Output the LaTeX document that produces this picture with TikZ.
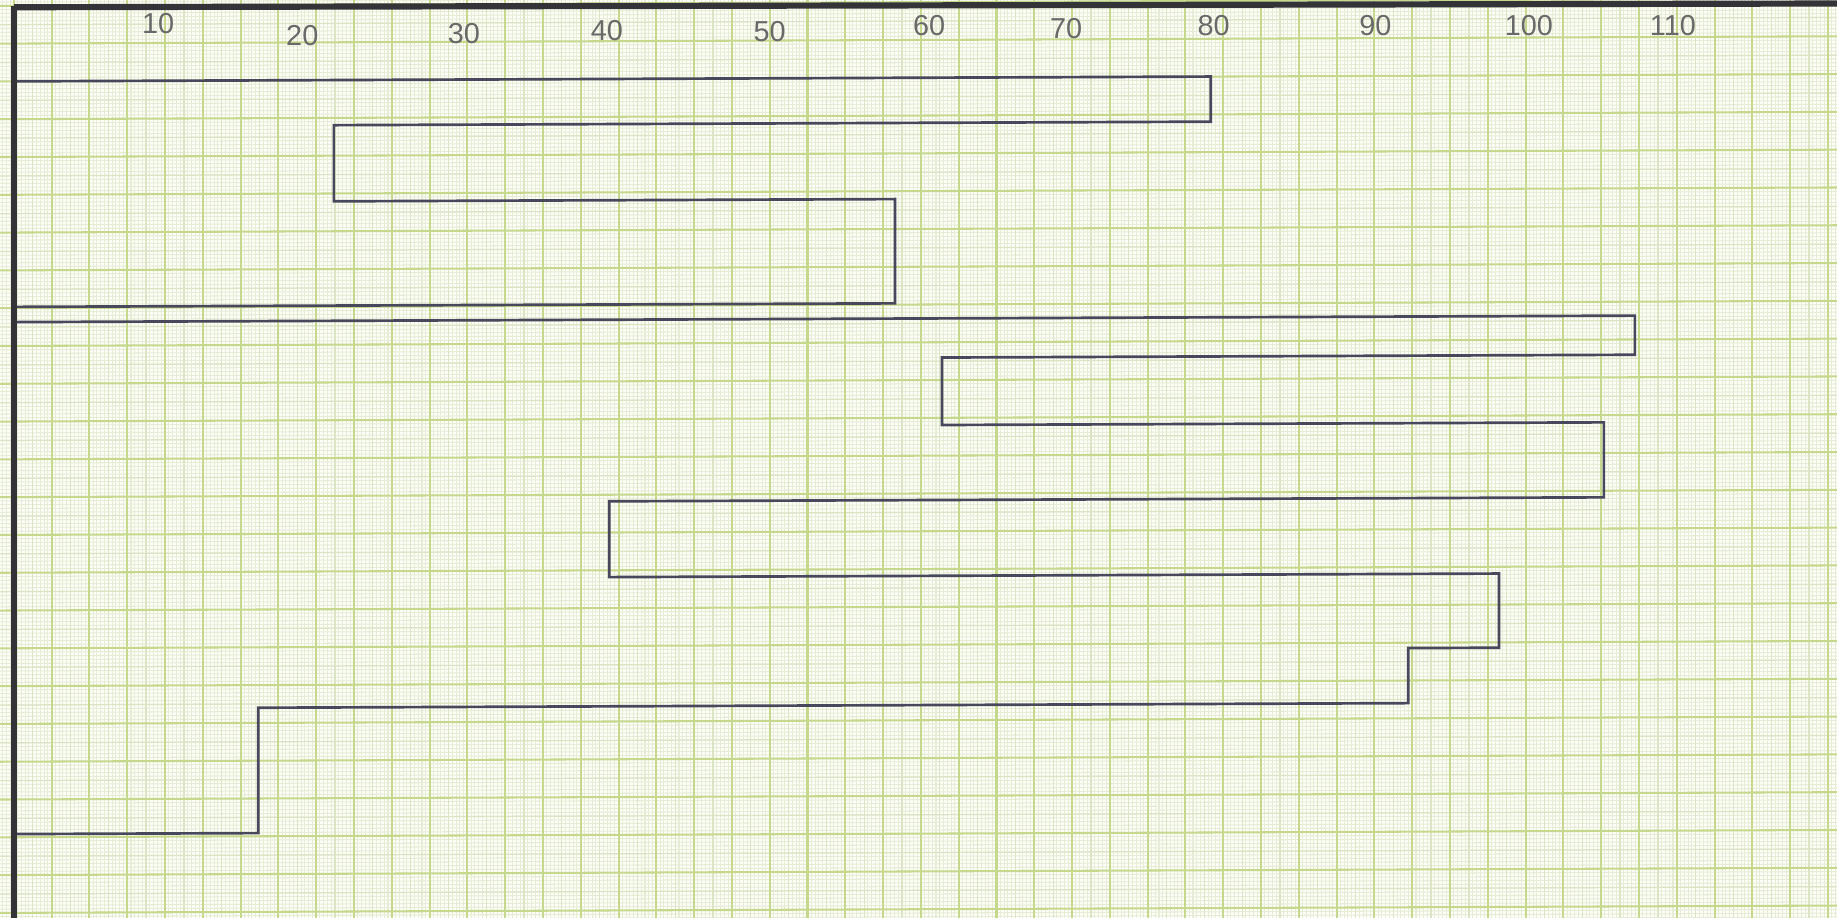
\documentclass[tikz,border=0pt]{standalone}
\usepackage{fontspec}
\setsansfont{Liberation Sans}
\usepackage{xcolor}
\usepackage{tikz}
\definecolor{paper}{RGB}{253,254,248}
\definecolor{gridminor}{RGB}{230,236,214}
\definecolor{gridhalf}{RGB}{220,228,198}
\definecolor{gridmajor}{RGB}{198,216,140}
\definecolor{pencil}{RGB}{72,72,92}
\definecolor{inkrule}{RGB}{52,52,56}
\definecolor{stencil}{RGB}{105,105,105}

\begin{document}
\begin{tikzpicture}[
  x=0.01cm,y=-0.01cm,
  minorln/.style={gridminor,line width=0.25pt},
  halfln/.style={gridhalf,line width=0.3pt},
  majorln/.style={gridmajor,line width=0.5pt},
  trace/.style={pencil,line width=0.65pt},
  rule/.style={inkrule,line width=1.5pt},
  scalelbl/.style={stencil,font=\sffamily\fontsize{7}{7}\selectfont,inner sep=0pt}]
\useasboundingbox (0,0) rectangle (1568,783);
\fill[paper] (0,0) rectangle (1568,783);
\begin{scope}
\clip (0,0) rectangle (1568,783);
\begin{scope}[yslant=0.004]
\foreach \i in {-4,...,490}
  \draw[minorln] ({11.8+3.226*\i},-20) -- ({11.8+3.226*\i},800);
\foreach \j in {-2,...,245}
  \draw[minorln] (-10,{5+3.226*\j}) -- (1580,{5+3.226*\j});
\foreach \i in {0,10,...,490}
  \draw[halfln] ({11.8+3.226*(\i+5)},-20) -- ({11.8+3.226*(\i+5)},800);
\foreach \j in {0,10,...,240}
  \draw[halfln] (-10,{5+3.226*(\j+5)}) -- (1580,{5+3.226*(\j+5)});
\foreach \i in {0,10,...,490}
  \draw[majorln] ({11.8+3.226*\i},-20) -- ({11.8+3.226*\i},800);
\foreach \j in {0,10,...,240}
  \draw[majorln] (-10,{5+3.226*\j}) -- (1580,{5+3.226*\j});
\draw[trace] (12,69.5) -- (1033.5,69.5) -- (1033.5,108) -- (285,108)
  -- (285,173) -- (764,173) -- (764,262) -- (12,262);
\draw[trace] (12,275) -- (1395.5,275) -- (1395.5,308.4) -- (804,308.4)
  -- (804,366) -- (1369,366) -- (1369,430) -- (520,430) -- (520,494.7)
  -- (1279.5,494.7) -- (1279.5,558) -- (1202,558) -- (1202,605)
  -- (220.5,605) -- (220.5,712) -- (12,712);
\end{scope}
\draw[rule] (12,6.2) -- (1570,3);
\draw[rule] (12,5) -- (12,790);
\end{scope}
\foreach \v/\px/\py in {10/135/20,20/258/30,30/396/29,40/518/26,50/657/27,
  60/793/22,70/910/24,80/1036/22,90/1174/22,100/1305/22,110/1428/22}
  \node[scalelbl] (lbl\v) at (\px,\py) {\v};
\end{tikzpicture}
\end{document}
